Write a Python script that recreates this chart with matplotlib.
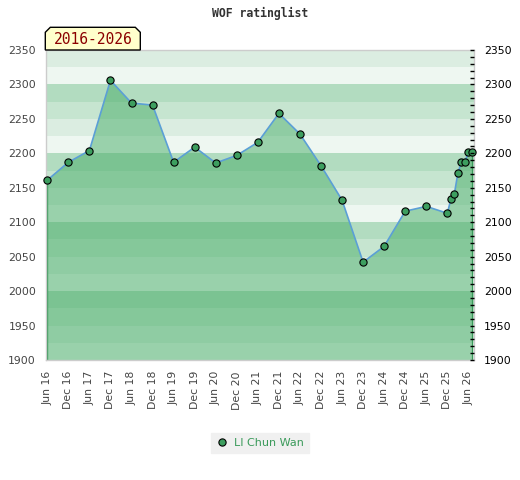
import pandas as pd
import matplotlib
matplotlib.use("Agg")
import matplotlib.pyplot as plt
from matplotlib.patches import Polygon
from matplotlib.ticker import MultipleLocator

# rating list dates and values
dates = ["2016-06", "2016-12", "2017-06", "2017-12", "2018-06", "2018-12",
         "2019-06", "2019-12", "2020-06", "2020-12", "2021-06", "2021-12",
         "2022-06", "2022-12", "2023-06", "2023-12", "2024-06", "2024-12",
         "2025-06", "2025-12", "2026-01", "2026-02", "2026-03", "2026-04",
         "2026-05", "2026-06", "2026-07"]
ratings = [2161, 2187, 2204, 2306, 2273, 2270, 2187, 2209, 2186, 2197, 2216,
           2258, 2228, 2182, 2132, 2042, 2065, 2116, 2123, 2113, 2133, 2141,
           2171, 2187, 2187, 2202, 2202]
tick_labels = ["Jun 16", "Dec 16", "Jun 17", "Dec 17", "Jun 18", "Dec 18",
               "Jun 19", "Dec 19", "Jun 20", "Dec 20", "Jun 21", "Dec 21",
               "Jun 22", "Dec 22", "Jun 23", "Dec 23", "Jun 24", "Dec 24",
               "Jun 25", "Dec 25", "Jun 26"]
player = "LI Chun Wan"

start = pd.Period("2016-06", freq="M")
x = [(pd.Period(d, freq="M") - start).n for d in dates]
tick_pos = [6 * i for i in range(len(tick_labels))]

W, H = 520, 480
fig = plt.figure(figsize=(W / 100, H / 100), dpi=100)

def fx(px):
    return px / W

def fy(py):
    return 1 - py / H

ax = fig.add_axes([fx(45.7), fy(360), fx(474) - fx(45.7), fy(50) - fy(360)])

# background bands, 25 points each, repeating every 100
band_cols = ["#eef7f1", "#dbede1", "#c6e5d0", "#b2dcc0"]
for lo in range(1900, 2350, 25):
    ax.axhspan(lo, lo + 25, color=band_cols[(lo % 100) // 25], lw=0, zorder=0)

ax.fill_between(x, ratings, 1900, facecolor="#45ac66", alpha=0.5,
                edgecolor="none", zorder=1)
ax.plot([x[0], x[0]], [1900, ratings[0]], color="#3a9a5a", lw=1, zorder=2)
ax.plot([x[-1], x[-1]], [1900, ratings[-1]], color="#3a9a5a", lw=1, zorder=2)
ax.plot(x, ratings, color="#5b9fd6", lw=1.2, zorder=3)
ax.plot(x, ratings, ls="none", marker="o", ms=5.2, mfc="#3d9e5f",
        mec="black", mew=0.8, zorder=4, label=player, clip_on=False)

ax.set_xlim(-0.45, 121.6)
ax.set_ylim(1900, 2350)
ax.set_xticks(tick_pos)
ax.set_xticklabels(tick_labels, rotation=90, fontsize=7.8, color="#444444")
ax.tick_params(axis="x", length=0, pad=8)

ax.yaxis.set_major_locator(MultipleLocator(50))
ax.tick_params(axis="y", length=0, pad=7, labelsize=7.8, labelcolor="#444444")
for s in ax.spines.values():
    s.set_color("#cccccc")
    s.set_linewidth(1)

# right axis with inside ticks
ax2 = ax.twinx()
ax2.set_ylim(1900, 2350)
ax2.yaxis.set_major_locator(MultipleLocator(50))
ax2.yaxis.set_minor_locator(MultipleLocator(10))
ax2.tick_params(axis="y", which="both", direction="in", length=3, width=1,
                color="black", pad=7, labelsize=7.8, labelcolor="black")
for s in ax2.spines.values():
    s.set_visible(False)

fig.text(0.5, fy(13), "WOF ratinglist", ha="center", va="center",
         family="DejaVu Sans Mono", fontweight="bold", fontsize=8.3,
         color="#333333")

# period label box with cut top corners
bx0, bx1, by0, by1, c = 45.3, 140.3, 27.3, 50, 5
pts = [(bx0, by1), (bx0, by0 + c), (bx0 + c, by0), (bx1 - c, by0),
       (bx1, by0 + c), (bx1, by1)]
fig.patches.append(Polygon([(fx(a), fy(b)) for a, b in pts], closed=True,
                           facecolor="#ffffcc", edgecolor="black", lw=1,
                           transform=fig.transFigure, zorder=5))
fig.text(fx((bx0 + bx1) / 2), fy(39.5), "2016-2026", ha="center", va="center",
         family="DejaVu Sans Mono", fontsize=10.5, color="#8b0000", zorder=6)

leg = ax.legend(loc="upper center", bbox_to_anchor=(0.5, fy(427)),
                bbox_transform=fig.transFigure, fontsize=8, frameon=True,
                fancybox=False, facecolor="#f0f0f0", edgecolor="#f0f0f0",
                framealpha=1, handlelength=1, handletextpad=0.6,
                borderpad=0.45, labelcolor="#3a9a5a")

fig.savefig("out.png", dpi=100)
